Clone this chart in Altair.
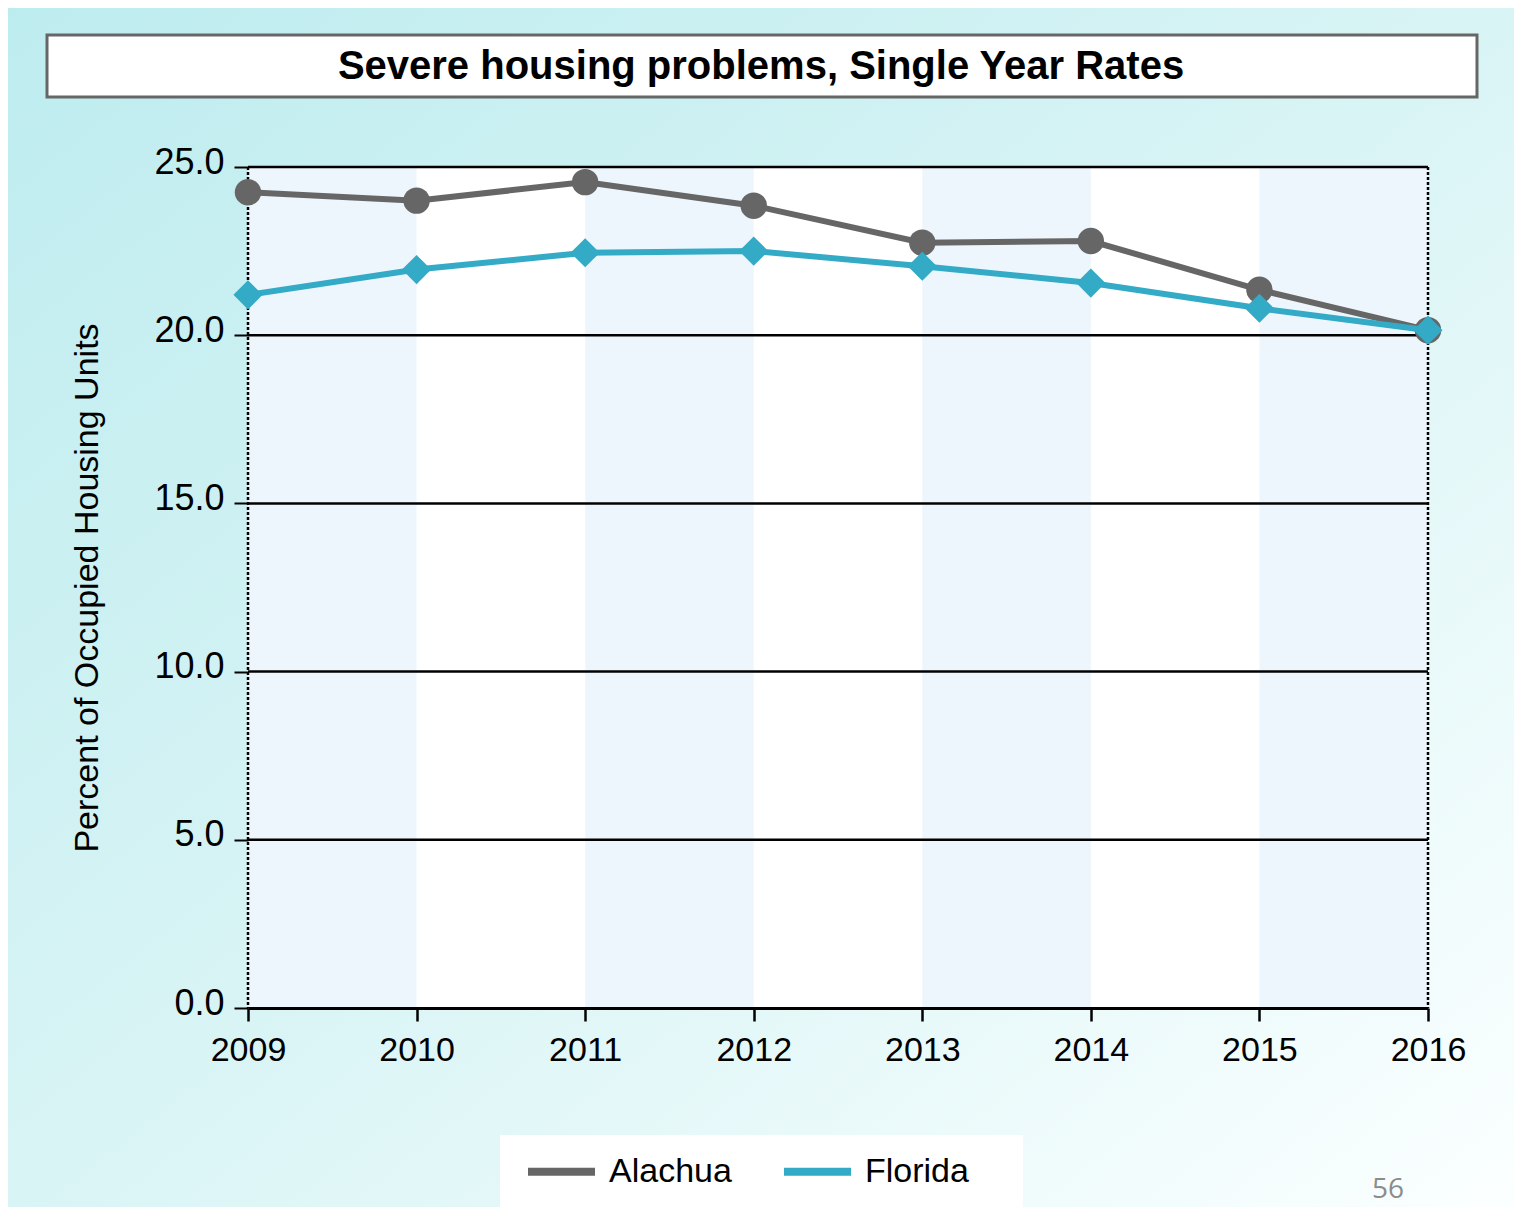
import altair as alt
import pandas as pd

years = [2009, 2010, 2011, 2012, 2013, 2014, 2015, 2016]
alachua = [24.25, 24.0, 24.55, 23.85, 22.75, 22.8, 21.35, 20.15]
florida = [21.2, 21.95, 22.45, 22.5, 22.05, 21.55, 20.8, 20.15]
series = ["Alachua", "Florida"]
colors = ["#666666", "#33aac6"]
band_starts = [2009, 2011, 2013, 2015]
grid_values = [5, 10, 15, 20, 25]
y_ticks = [0, 5, 10, 15, 20, 25]
title_text = "Severe housing problems, Single Year Rates"
y_title = "Percent of Occupied Housing Units"
page_number = "56"

W, H = 1180, 841
PL, PT, PR, PB = 240, 159, 86, 199
FONT = "Liberation Sans"

rows = []
for s, vals in zip(series, [alachua, florida]):
    for yr, v in zip(years, vals):
        rows.append({"year": yr, "value": v, "series": s})
df = pd.DataFrame(rows)
one = pd.DataFrame({"k": [0]})

xscale = alt.Scale(domain=[years[0], years[-1]], nice=False, zero=False)
yscale = alt.Scale(domain=[0, 25], nice=False)
cscale = alt.Scale(domain=series, range=colors)

grad = alt.LinearGradient(
    gradient="linear",
    stops=[alt.GradientStop(offset=0, color="#bdecef"),
           alt.GradientStop(offset=0.5, color="#d9f4f5"),
           alt.GradientStop(offset=1, color="#fbffff")],
    x1=0, y1=0, x2=1, y2=1)

bg = alt.Chart(one).mark_rect(fill=grad).encode(
    x=alt.value(-PL), x2=alt.value(W + PR), y=alt.value(-PT), y2=alt.value(H + PB))

plotbg = alt.Chart(one).mark_rect(fill="white").encode(
    x=alt.value(0), x2=alt.value(W), y=alt.value(0), y2=alt.value(H))

bands_df = pd.DataFrame({"x0": band_starts, "x1": [b + 1 for b in band_starts]})
bands = alt.Chart(bands_df).mark_rect(fill="#eef6fd").encode(
    x=alt.X("x0:Q", scale=xscale), x2="x1:Q", y=alt.value(0), y2=alt.value(H))

grid_df = pd.DataFrame({"g": grid_values})
grid = alt.Chart(grid_df).mark_rule(color="black", strokeWidth=2.5).encode(
    y=alt.Y("g:Q", scale=yscale), x=alt.value(0), x2=alt.value(W))

edge_df = pd.DataFrame({"e": [years[0], years[-1]]})
edges = alt.Chart(edge_df).mark_rule(color="black", strokeWidth=2.5, strokeDash=[3, 2]).encode(
    x=alt.X("e:Q", scale=xscale), y=alt.value(0), y2=alt.value(H))

titlebox = alt.Chart(one).mark_rect(fill="white", stroke="#666666", strokeWidth=3).encode(
    x=alt.value(47 - 248), x2=alt.value(1477 - 248), y=alt.value(35 - 167), y2=alt.value(97 - 167))
title = alt.Chart(pd.DataFrame({"t": [title_text]})).mark_text(
    font=FONT, fontSize=40, fontWeight="bold", color="black", align="center", baseline="alphabetic"
).encode(x=alt.value(761 - 248), y=alt.value(79 - 167), text="t:N")

legendbox = alt.Chart(one).mark_rect(fill="white").encode(
    x=alt.value(500 - 248), x2=alt.value(1023 - 248), y=alt.value(1135 - 167), y2=alt.value(1207 - 167))

pagenum = alt.Chart(pd.DataFrame({"t": [page_number]})).mark_text(
    font="Open Sans", fontSize=28, color="#8c8c8c", align="center", baseline="alphabetic"
).encode(x=alt.value(1388 - 248), y=alt.value(1198 - 167), text="t:N")

xaxis = alt.Axis(values=years, format="d", title=None, grid=False, domain=True,
                 domainColor="black", domainWidth=3, ticks=True, tickColor="black",
                 tickWidth=2.5, tickSize=13, labelFont=FONT, labelFontSize=34,
                 labelColor="black", labelPadding=12, zindex=1, labelFlush=False)
yaxis = alt.Axis(values=y_ticks, format=".1f", title=y_title, grid=False, domain=False,
                 ticks=True, tickColor="black", tickWidth=2, tickSize=14,
                 labelFont=FONT, labelFontSize=36, labelColor="black", labelPadding=10,
                 labelOffset=-5, titleFont=FONT, titleFontSize=34, titleFontWeight="normal",
                 titleColor="black", titleAngle=-90, titleX=97 - 248, titleY=H / 2,
                 titleBaseline="alphabetic", titleAlign="center", zindex=1)

legend = alt.Legend(title=None, orient="none", legendX=524 - 248, legendY=1168 - 34 - 167,
                    direction="horizontal", symbolType="stroke", symbolSize=67 * 67,
                    symbolStrokeWidth=8, labelFont=FONT, labelFontSize=34, labelColor="black",
                    labelOffset=10, columnPadding=36, padding=0)


def line_layer(name, with_legend):
    return alt.Chart(df).transform_filter(alt.datum.series == name).mark_line(
        strokeWidth=6).encode(
        x=alt.X("year:Q", scale=xscale, axis=xaxis),
        y=alt.Y("value:Q", scale=yscale, axis=yaxis),
        color=alt.Color("series:N", scale=cscale, legend=legend if with_legend else None))


def point_layer(name, shape, size):
    return alt.Chart(df).transform_filter(alt.datum.series == name).mark_point(
        filled=True, opacity=1, shape=shape, size=size).encode(
        x=alt.X("year:Q", scale=xscale),
        y=alt.Y("value:Q", scale=yscale),
        color=alt.Color("series:N", scale=cscale, legend=None))


chart = alt.layer(
    bg, plotbg, bands, grid, edges, titlebox, title, legendbox, pagenum,
    line_layer("Alachua", True), point_layer("Alachua", "circle", 700),
    line_layer("Florida", False), point_layer("Florida", "diamond", 850),
).properties(
    width=W, height=H,
    padding={"left": PL, "top": PT, "right": PR, "bottom": PB},
    autosize=alt.AutoSizeParams(type="none"),
).configure_view(stroke=None)

chart.save("out.html", embed_options={"renderer": "svg", "actions": False})
